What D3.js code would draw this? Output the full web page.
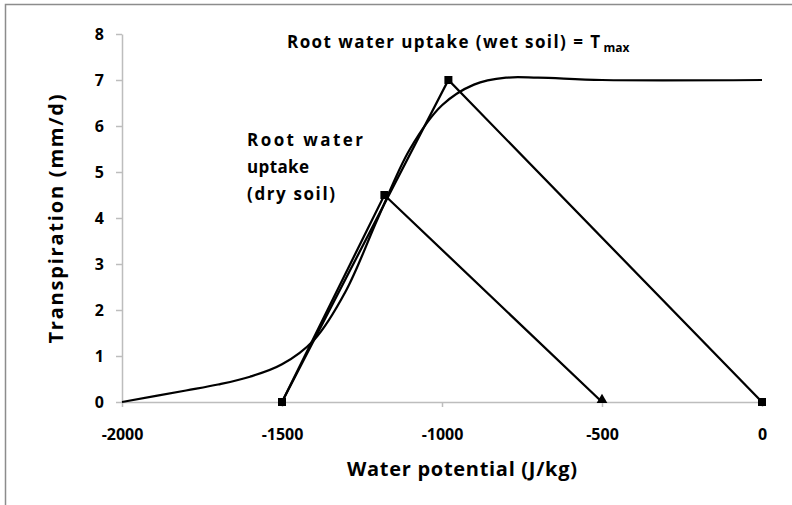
<!DOCTYPE html>
<html>
<head>
<meta charset="utf-8">
<script src="https://cdn.jsdelivr.net/npm/d3@7"></script>
<style>
  body { margin: 0; background: #fff; }
  text { font-family: "Open Sans", Lato, sans-serif; font-weight: bold; fill: #000; }
</style>
</head>
<body>
<div id="chart"></div>
<script>
// transpiration curve (smoothed)
const curveX = [-2000, -1800, -1700, -1600, -1500, -1400, -1300, -1200, -1100, -1000, -900, -800, -700, -500, 0];
const curveY = [0, 0.25, 0.38, 0.55, 0.82, 1.35, 2.42, 4.0, 5.5, 6.45, 6.9, 7.05, 7.05, 7.0, 7.0];

// root water uptake, wet soil
const wetX = [-1500, -980, 0];
const wetY = [0, 7, 0];

// root water uptake, dry soil
const dryX = [-1500, -1180, -500];
const dryY = [0, 4.5, 0];

const xTicks = [-2000, -1500, -1000, -500, 0];
const yTicks = [0, 1, 2, 3, 4, 5, 6, 7, 8];

let width = 792, height = 505,
    margin = ({ top: 34, right: 30, bottom: 103, left: 122 });

const svg = d3.select("#chart")
    .append("svg")
    .attr("width", width)
    .attr("height", height);

// chart border
svg.append("rect")
    .attr("x", 5.5).attr("y", 4.5)
    .attr("width", width).attr("height", height)
    .attr("fill", "none")
    .attr("stroke", "#8c8c8c")
    .attr("stroke-width", 1.5);

let x = d3.scaleLinear()
    .domain([-2000, 0])
    .range([margin.left, width - margin.right]);

let y = d3.scaleLinear()
    .domain([0, 8])
    .range([height - margin.bottom, margin.top]);

let xAxis = svg.append("g")
    .attr("transform", `translate(0,${height - margin.bottom})`)
    .call(d3.axisBottom(x).tickValues(xTicks).tickFormat(d => String(d))
      .tickSize(5).tickSizeOuter(0).tickPadding(22));

let yAxis = svg.append("g")
    .attr("transform", `translate(${margin.left},0)`)
    .call(d3.axisLeft(y).tickValues(yTicks).tickFormat(d => String(d))
      .tickSize(6).tickSizeOuter(0).tickPadding(12));

[xAxis, yAxis].forEach(g => {
    g.select(".domain").attr("stroke", "#bdbdbd").attr("stroke-width", 1.5);
    g.selectAll(".tick line").attr("stroke", "#bdbdbd").attr("stroke-width", 1.5);
    g.selectAll(".tick text")
      .attr("fill", "#000")
      .style("font-family", "'Open Sans', sans-serif")
      .style("font-weight", "bold")
      .style("font-size", "16px");
});

// axis titles
svg.append("text")
    .attr("x", 462)
    .attr("y", 476)
    .attr("text-anchor", "middle")
    .attr("textLength", 230)
    .attr("lengthAdjust", "spacing")
    .style("font-size", "20px")
    .text("Water potential (J/kg)");

svg.append("text")
    .attr("transform", "translate(63,219) rotate(-90)")
    .attr("text-anchor", "middle")
    .attr("textLength", 249)
    .attr("lengthAdjust", "spacing")
    .style("font-size", "20px")
    .text("Transpiration (mm/d)");

// series
let zip = (xs, ys) => xs.map((v, i) => ({ x: v, y: ys[i] }));

let curveLine = d3.line()
    .x(d => x(d.x))
    .y(d => y(d.y))
    .curve(d3.curveCatmullRom);

let straight = d3.line()
    .x(d => x(d.x))
    .y(d => y(d.y));

[[curveX, curveY, curveLine], [wetX, wetY, straight], [dryX, dryY, straight]].forEach(([xs, ys, gen]) => {
    svg.append("path")
      .datum(zip(xs, ys))
      .attr("d", gen)
      .attr("fill", "none")
      .attr("stroke", "#000")
      .attr("stroke-width", 2.25);
});

// markers: squares everywhere except the dry-soil end (triangle)
let squares = zip(wetX, wetY).concat(zip(dryX.slice(1, 2), dryY.slice(1, 2)));
svg.selectAll(".sq")
    .data(squares)
    .join("rect")
    .attr("class", "sq")
    .attr("x", d => x(d.x) - 4)
    .attr("y", d => y(d.y) - 4)
    .attr("width", 8)
    .attr("height", 8)
    .attr("fill", "#000");

svg.append("path")
    .attr("d", d3.symbol(d3.symbolTriangle, 50))
    .attr("transform", `translate(${x(dryX[2])},${y(dryY[2]) - 2})`)
    .attr("fill", "#000");

// annotations
let wetLabel = svg.append("text")
    .attr("x", 287)
    .attr("y", 48)
    .style("font-size", "17px");
wetLabel.append("tspan")
    .attr("textLength", 313)
    .attr("lengthAdjust", "spacing")
    .text("Root water uptake (wet soil) = T");
wetLabel.append("tspan").attr("dy", 4).attr("dx", 2).style("font-size", "12px").text("max");

let dryLabel = svg.append("text")
    .attr("x", 247)
    .attr("y", 146)
    .style("font-size", "17px");
[["Root water", 116], ["uptake", 62], ["(dry soil)", 88]].forEach(([t, w], i) => {
    dryLabel.append("tspan")
      .attr("x", 247)
      .attr("dy", i ? 27 : 0)
      .attr("textLength", w)
      .attr("lengthAdjust", "spacing")
      .text(t);
});
</script>
</body>
</html>
